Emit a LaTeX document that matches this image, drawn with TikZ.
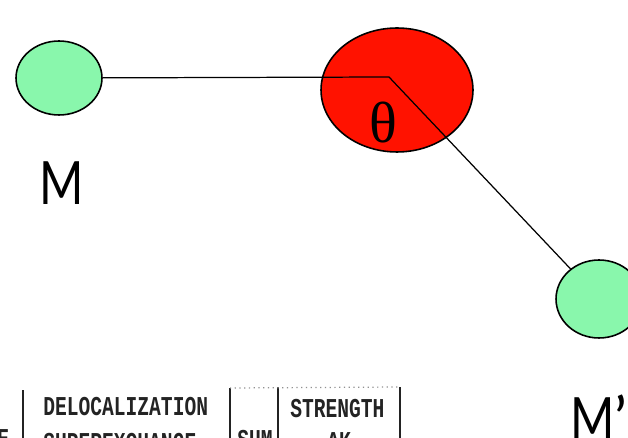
\documentclass[tikz,border=0pt]{standalone}
\usepackage{fontspec}
\setmainfont{Liberation Serif}
\newfontfamily\labelfont{Lato}
\newfontfamily\scanfont{Liberation Mono}
\usetikzlibrary{shapes.geometric}
\usetikzlibrary{positioning}
\definecolor{atomgreen}{RGB}{137,247,172}
\definecolor{atomred}{RGB}{255,18,0}
\definecolor{scangray}{RGB}{35,35,35}

\begin{document}
\begin{tikzpicture}[x=0.02cm, y=-0.02cm,
    atom/.style={ellipse, draw, line width=0.9pt, inner sep=0pt},
    mlabel/.style={font=\labelfont\fontsize{34}{34}\selectfont, anchor=base west, inner sep=0pt},
    scan/.style={font=\scanfont\bfseries\fontsize{15.5}{15.5}\selectfont, text=scangray, anchor=base west, inner sep=0pt},
    rule/.style={draw=scangray, line width=0.7pt}]
    \useasboundingbox (0,0) rectangle (628,438);
    \clip (0,0) rectangle (628,438);
    % atoms
    \node[atom, fill=atomgreen, minimum width=1.72cm, minimum height=1.48cm] (M) at (59,78) {};
    \node[atom, fill=atomred, minimum width=3.04cm, minimum height=2.48cm] (O) at (397,90) {};
    \node[atom, fill=atomgreen, minimum width=1.72cm, minimum height=1.56cm] (Mp) at (599,299) {};
    \coordinate (v) at (389,77);
    \draw[line width=0.7pt] (M) -- (v) -- (Mp);
    \node[font=\fontsize{33}{33}\selectfont, inner sep=0pt] (theta) at (383,123) {θ};
    % labels
    \node[mlabel] (lM) at (39,205) {\scalebox{0.8}[1]{M}};
    \node[mlabel] (lMp) at (570,440) {\scalebox{0.8}[1]{M}’};
    % piece of the table
    \node[scan] (tE) at (-3,447) {\scalebox{0.72}[1]{E}};
    \node[scan] (tDeloc) at (43,415) {\scalebox{0.72}[1]{DELOCALIZATION}};
    \node[scan] (tSuper) at (43,451) {\scalebox{0.72}[1]{SUPEREXCHANGE}};
    \node[scan] (tSum) at (237,448) {\scalebox{0.72}[1]{SUM}};
    \node[scan] (tStrength) at (290,417) {\scalebox{0.72}[1]{STRENGTH}};
    \node[scan] (tK) at (327,450) {\scalebox{0.72}[1]{ΔK}};
    \coordinate (r1) at (23,390);
    \coordinate (r2) at (230,388);
    \coordinate (r3) at (278,387);
    \coordinate (r4) at (400,387);
    \draw[rule] (r1) -- (23,440);
    \draw[rule] (r2) -- (230,440);
    \draw[rule] (r3) -- (278,440);
    \draw[rule] (r4) -- (400,440);
    \draw[rule, draw=scangray!50, dotted] (r2) -- (r4);
\end{tikzpicture}
\end{document}
